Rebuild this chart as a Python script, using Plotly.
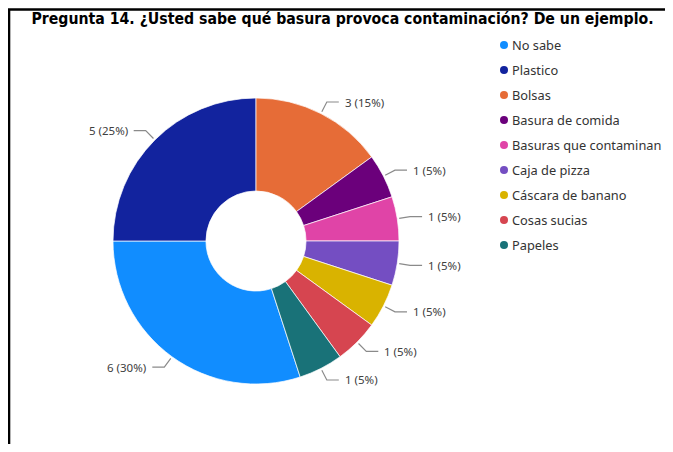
import math
import plotly.graph_objects as go

# ---- data ----
categories = ["No sabe", "Plastico", "Bolsas", "Basura de comida",
              "Basuras que contaminan", "Caja de pizza", "Cáscara de banano",
              "Cosas sucias", "Papeles"]
counts = [6, 5, 3, 1, 1, 1, 1, 1, 1]
colors = ["#118DFF", "#12239E", "#E66C37", "#6B007B", "#E044A7",
          "#744EC2", "#D9B300", "#D64550", "#197278"]
title_text = "Pregunta 14. ¿Usted sabe qué basura provoca contaminación? De un ejemplo."

# ---- geometry (window pixels; page body has an 8px margin) ----
OFF = 8
W, H = 673 - 2 * OFF, 452 - 2 * OFF
CX, CY, R = 256, 241, 143
ROTATION = 162  # start angle of first slice, clockwise from 12 o'clock


def px(x):
    return (x - OFF) / W


def py(y):
    return 1 - (y - OFF) / H


fig = go.Figure()
fig.add_trace(go.Pie(
    labels=categories,
    values=counts,
    marker=dict(colors=colors, line=dict(color="rgba(255,255,255,0.7)", width=1)),
    hole=0.35,
    sort=False,
    direction="clockwise",
    rotation=ROTATION,
    textinfo="none",
    showlegend=False,
    domain=dict(x=[px(CX - R), px(CX + R)], y=[py(CY + R), py(CY - R)]),
))

# ---- data labels with elbow leader lines ----
total = sum(counts)
shapes = []
annotations = []
acc = 0
for v in counts:
    mid = ROTATION + 360 * (acc + v / 2) / total
    acc += v
    a = math.radians(mid)
    s, c = math.sin(a), -math.cos(a)
    x0, y0 = CX + (R + 2) * s, CY + (R + 2) * c
    x1, y1 = CX + (R + 13) * s, CY + (R + 13) * c
    side = 1 if s >= 0 else -1
    x2 = x1 + side * 12
    shapes.append(dict(type="path", xref="paper", yref="paper",
                       path=f"M{px(x0)},{py(y0)} L{px(x1)},{py(y1)} L{px(x2)},{py(y1)}",
                       line=dict(color="#8a8a8a", width=1.2)))
    annotations.append(dict(xref="paper", yref="paper", x=px(x2 + side * 4), y=py(y1),
                            xanchor="left" if side > 0 else "right", yanchor="middle",
                            text=f"{v} ({v / total:.0%})", showarrow=False,
                            font=dict(family="Noto Sans", size=11.5, color="#404040")))

# ---- legend (circle + label), built from the category list ----
LEG_X, LEG_Y0, LEG_DY = 504, 45, 25
for i, (cat, col) in enumerate(zip(categories, colors)):
    yy = LEG_Y0 + i * LEG_DY
    shapes.append(dict(type="circle", xref="paper", yref="paper",
                       xsizemode="pixel", ysizemode="pixel",
                       xanchor=px(LEG_X), yanchor=py(yy),
                       x0=-4, x1=4, y0=-4, y1=4,
                       fillcolor=col, line=dict(width=0)))
    annotations.append(dict(xref="paper", yref="paper", x=px(LEG_X + 6), y=py(yy),
                            xanchor="left", yanchor="middle", text=cat, showarrow=False,
                            font=dict(family="Noto Sans", size=12.8, color="#333333")))

# ---- frame lines (top and left) ----
shapes.append(dict(type="path", xref="paper", yref="paper",
                   path=f"M{px(9)},0 L{px(9)},{py(9.5)} L1,{py(9.5)}",
                   line=dict(color="black", width=2.6)))

fig.update_layout(
    width=W, height=H,
    margin=dict(l=0, r=0, t=0, b=0),
    paper_bgcolor="white",
    plot_bgcolor="white",
    showlegend=False,
    title=dict(text=f"<b>{title_text}</b>", x=px(342.5), y=py(19),
               xanchor="center", yanchor="middle",
               font=dict(family="DejaVu Sans Condensed", size=15.7, color="black")),
    shapes=shapes,
    annotations=annotations,
)

fig.write_html("out.html")
